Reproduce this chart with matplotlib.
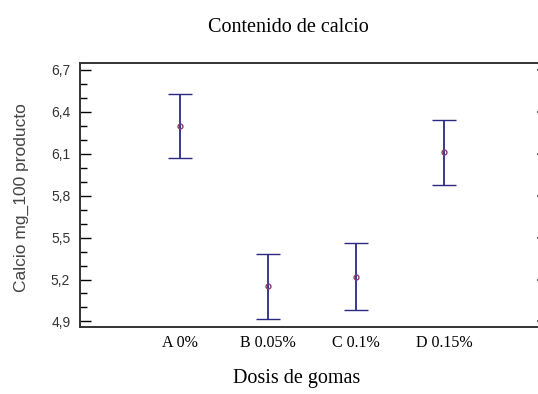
import matplotlib
matplotlib.use("Agg")
import matplotlib.pyplot as plt
from matplotlib.ticker import FuncFormatter, MultipleLocator
import numpy as np

# medias de calcio por dosis y semiamplitud del intervalo
dosis = ["A 0%", "B 0.05%", "C 0.1%", "D 0.15%"]
medias = [6.30, 5.15, 5.22, 6.11]
semi = [0.23, 0.233, 0.24, 0.23]

fig = plt.figure(figsize=(5.38, 3.94), dpi=100)
ax = fig.add_axes([80 / 538, 1 - 327 / 394, 461 / 538, 264 / 394])

x = np.arange(1, len(dosis) + 1)
ax.errorbar(x, medias, yerr=semi, fmt="o", color="#2a2a80", ecolor="#2a2a80",
            elinewidth=1.3, capsize=8.5, capthick=1.3,
            markersize=3.5, markerfacecolor="none", markeredgecolor="#8a3a70",
            markeredgewidth=1.0)

ax.set_xlim(-0.136, 5.1)
ax.set_ylim(4.86, 6.75)
ax.set_xticks(x)
ax.set_xticklabels(dosis, family="Liberation Serif", fontsize=11.5)
ax.yaxis.set_minor_locator(MultipleLocator(0.1))
ax.set_yticks(np.arange(4.9, 6.71, 0.3))
ax.yaxis.set_major_formatter(FuncFormatter(lambda v, p: f"{v:.1f}".replace(".", ",")))
for lb in ax.get_yticklabels():
    lb.set_family("Liberation Sans")
    lb.set_fontsize(10)
    lb.set_color("#333333")

ax.tick_params(axis="x", length=0, pad=6)
ax.tick_params(axis="y", which="major", direction="in", length=8, width=1,
               pad=7)
ax.tick_params(axis="y", which="minor", direction="in", length=5, width=1)

# marcas cortas del eje derecho
ax2 = ax.twinx()
ax2.set_ylim(ax.get_ylim())
ax2.set_yticks(np.arange(4.9, 6.71, 0.3))
ax2.set_yticklabels([])
ax2.tick_params(axis="y", direction="in", length=3, width=1.2, color="#444444")
for s in ax2.spines.values():
    s.set_visible(False)

for s in ax.spines.values():
    s.set_linewidth(1.4)
    s.set_color("#333333")

fig.text(21 / 538, 1 - 198 / 394, "Calcio mg_100 producto", family="Liberation Sans",
         fontsize=12.5, color="#444444", rotation=90, ha="center", va="center")
fig.text(297 / 538, 1 - 378 / 394, "Dosis de gomas", family="Liberation Serif",
         fontsize=14.5, ha="center", va="center")
fig.text(288 / 538, 1 - 28 / 394, "Contenido de calcio", family="Liberation Serif",
         fontsize=14.5, ha="center", va="center")

fig.savefig("out.png", dpi=100)
